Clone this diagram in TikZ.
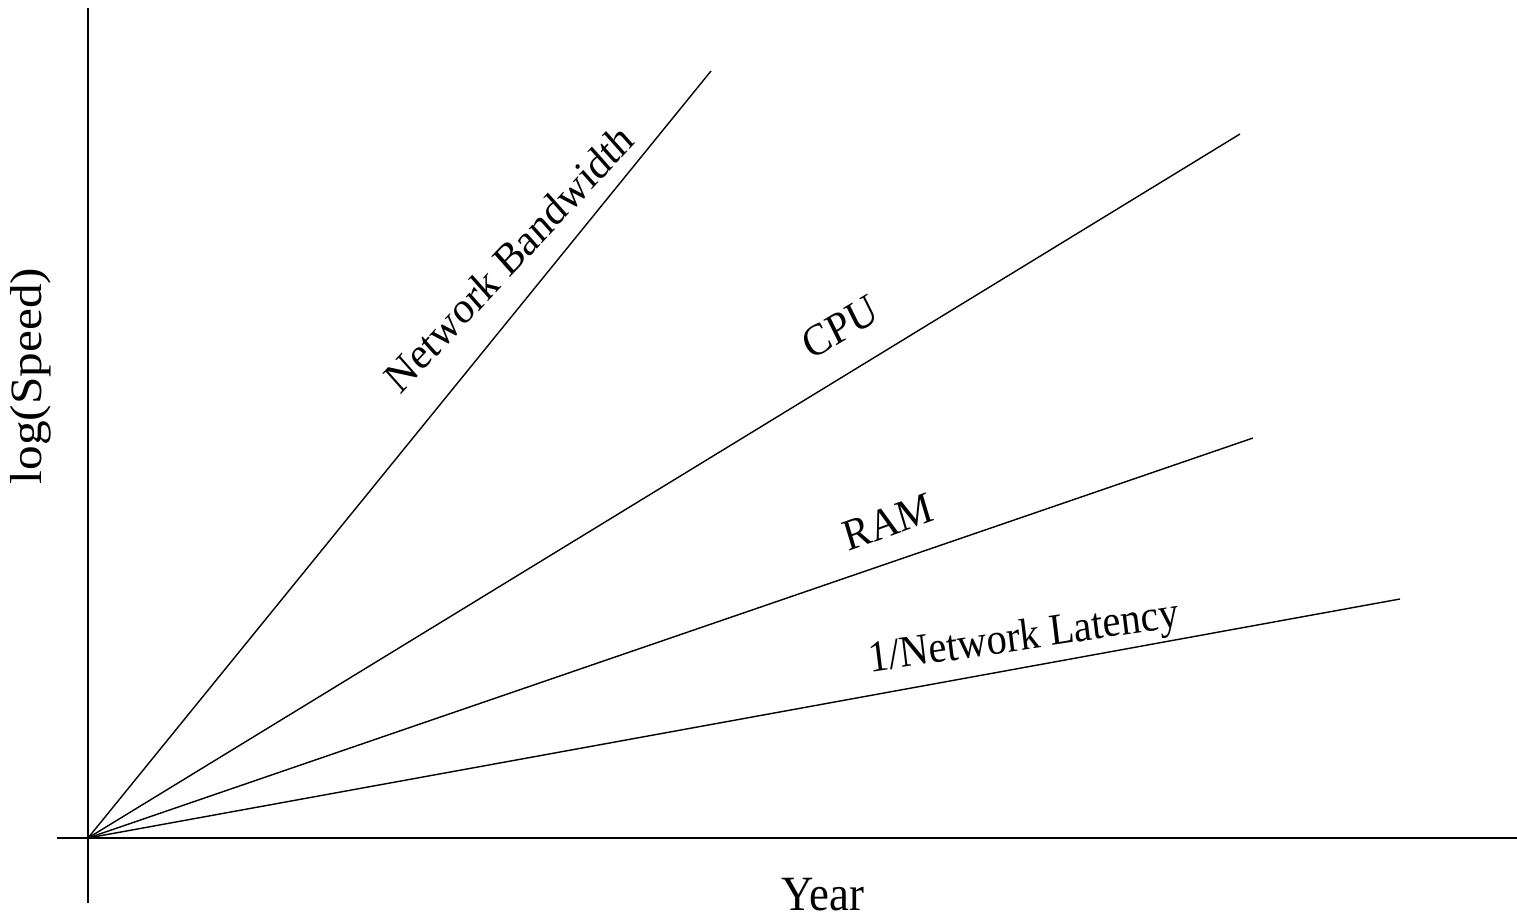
\documentclass[tikz,border=0pt]{standalone}
\usepackage{fontspec}
\setmainfont{Liberation Serif}
\tikzstyle{axis} = [line width=0.9pt]
\tikzstyle{trend} = [line width=0.8pt]
\tikzstyle{tag} = [inner sep=0pt,font=\fontsize{23}{28}\selectfont]
\tikzstyle{title} = [inner sep=0pt,font=\fontsize{25.5}{30}\selectfont]
\def \px {0.02cm}
\def \st {1.1}

\begin{document}
\begin{tikzpicture}[x=\px,y=-\px]
      \useasboundingbox (0,0) rectangle (1517,916);
      % axes
      \coordinate (o) at (88,838);
      \coordinate (ytop) at (88,8);
      \coordinate (ybot) at (88,903);
      \coordinate (xleft) at (57,838);
      \coordinate (xright) at (1517,838);
      \draw[axis] (ytop) -- (ybot);
      \draw[axis] (xleft) -- (xright);
      % trends
      \coordinate (bw) at (711,71);
      \coordinate (cpu) at (1240,134);
      \coordinate (ram) at (1253,438);
      \coordinate (lat) at (1400,599);
      \draw[trend] (o) -- (bw);
      \draw[trend] (o) -- (cpu);
      \draw[trend] (o) -- (ram);
      \draw[trend] (o) -- (lat);
      % texts, stretched upright
      \begin{scope}[yscale=\st,transform shape]
        \node[title] (year) at (823,{895/\st}) {Year};
        \node[title,rotate=90] (speed) at (31,{376/\st}) {log(Speed)};
        \node[tag,rotate=44.3] (bwtag) at (509,{258/\st}) {Network Bandwidth};
        \node[tag,rotate=28.6] (cputag) at (840,{327/\st}) {CPU};
        \node[tag,rotate=18.3] (ramtag) at (888,{522/\st}) {RAM};
        \node[tag,rotate=7.7] (lattag) at (1024,{639/\st}) {1/Network Latency};
      \end{scope}
\end{tikzpicture}
\end{document}
